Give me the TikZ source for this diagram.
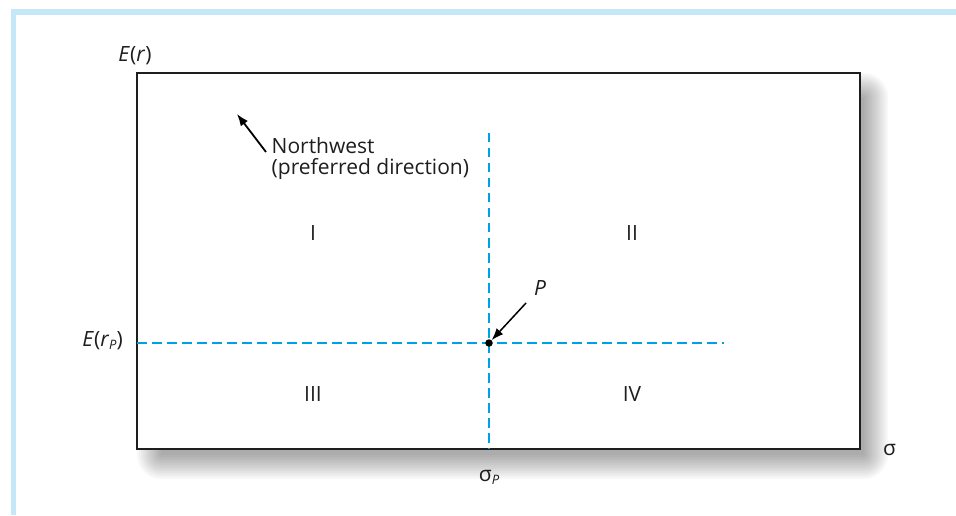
\documentclass[tikz,border=0pt]{standalone}
\usepackage{fontspec}
\setmainfont{Open Sans}
\usetikzlibrary{arrows.meta}
\definecolor{bordblue}{RGB}{196,232,248}
\definecolor{dashblue}{RGB}{0,160,227}
\definecolor{inkc}{RGB}{30,30,30}
\begin{document}
\begin{tikzpicture}[x=1pt,y=1pt,
  txt/.style={inner sep=0pt,text=inkc,font=\fontsize{21}{21.7}\selectfont},
  dashln/.style={draw=dashblue,line width=2pt,dash pattern=on 9.5pt off 5.5pt},
  arr/.style={draw=black,line width=1.8pt,-{Latex[length=12pt,width=9pt]}},
  dotnode/.style={circle,fill=black,inner sep=0pt,minimum size=7.5pt}]
\useasboundingbox (0,0) rectangle (956,515);
\fill[white] (0,0) rectangle (956,515);
% light blue frame
\fill[bordblue] (11,500) rectangle (956,506);
\fill[bordblue] (11,0) rectangle (16,506);
% soft shadow (manual)
\foreach \k in {0,...,12}{
  \pgfmathsetmacro{\e}{2*\k}
  \fill[black,opacity=0.026,rounded corners=\e pt]
    (161-\e,60-\e) rectangle (864+\e,418+\e);
}
% plot box
\node[draw=inkc,line width=1.2pt,fill=white,minimum width=723pt,minimum height=376pt,inner sep=0pt]
  (box) at (498.5,254) {};
% dashed lines
\coordinate (h0) at (137,172);
\coordinate (h1) at (724,172);
\coordinate (v0) at (489,382);
\coordinate (v1) at (489,66);
\draw[dashln] (h0) -- (h1);
\draw[dashln] (v0) -- (v1);
\draw[draw=inkc,line width=1.2pt] (box.south west) rectangle (box.north east);
% point P
\node[dotnode] (P) at (489,172) {};
\node[txt,anchor=base] (Plab) at (540,220) {\itshape P};
\coordinate (pa) at (526,212);
\draw[arr,line width=1.5pt] (pa) -- (P);
% northwest arrow
\coordinate (nw0) at (266,363);
\coordinate (nw1) at (237,401);
\draw[arr] (nw0) -- (nw1);
\node[txt,anchor=base west,align=left] (nwlab) at (271.5,340) {Northwest\\(preferred direction)};
% quadrant labels
\node[txt] (q1) at (313,281.5) {I};
\node[txt] (q2) at (632,281.5) {II};
\node[txt] (q3) at (313,120.5) {III};
\node[txt] (q4) at (632,120.5) {IV};
% axis labels
\node[txt,anchor=base] (ylab) at (135,453) {\itshape E\/\upshape(\itshape r\/\upshape)};
\node[txt,anchor=base east] (erp) at (123,169) {\itshape E\/\upshape(\itshape r\/\raisebox{-0.35ex}{\fontsize{13}{13}\selectfont P}\upshape)};
\node[txt,anchor=base] (sigp) at (489,34) {σ\raisebox{-0.35ex}{\fontsize{13}{13}\selectfont\itshape P}};
\node[txt,anchor=base] (sig) at (889.5,60) {σ};
\end{tikzpicture}
\end{document}
